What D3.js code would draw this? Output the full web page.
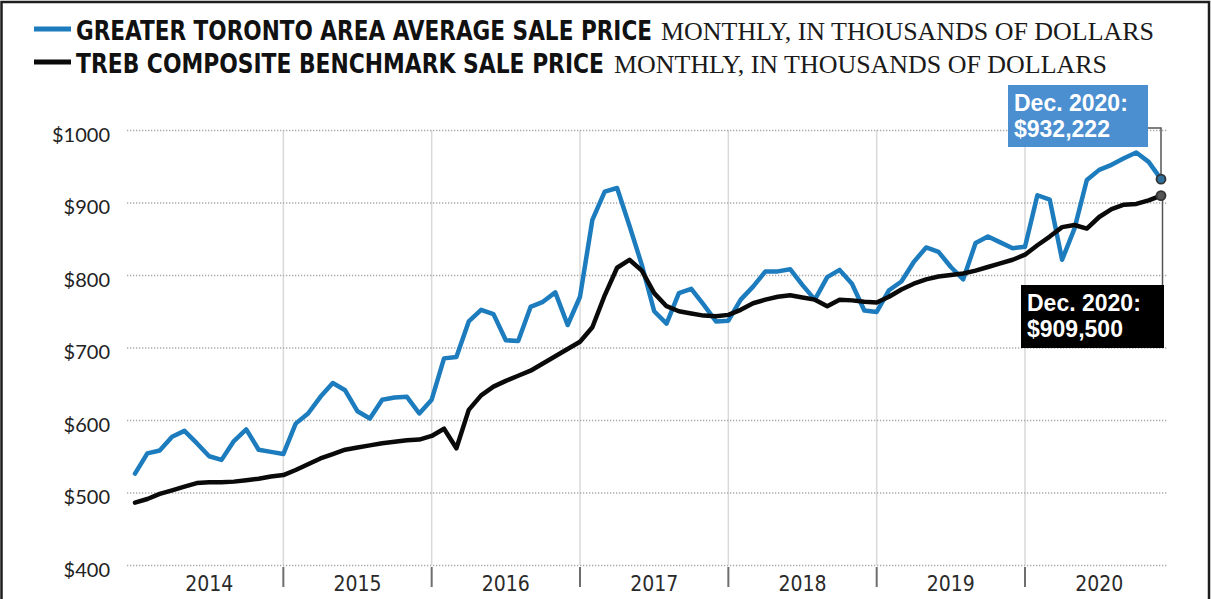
<!DOCTYPE html>
<html>
<head>
<meta charset="utf-8">
<script src="https://cdn.jsdelivr.net/npm/d3@7"></script>
<style>
  html, body { margin: 0; padding: 0; background: #fff; }
  svg { display: block; }
</style>
</head>
<body>
<svg id="chart" width="1211" height="599"></svg>
<script>
// Years shown along the bottom axis; one value per month, Jan 2014 – Dec 2020
const years = ["2014", "2015", "2016", "2017", "2018", "2019", "2020"];
const yTicks = [400, 500, 600, 700, 800, 900, 1000];

// GTA average sale price, monthly, thousands of dollars
const gtaAverage = [
  526, 554, 558, 577, 585, 568, 550, 545, 571, 587, 559, 556,
  553, 595, 609, 632, 651, 641, 612, 602, 628, 631, 632, 609,
  628, 685, 687, 736, 752, 746, 710, 709, 756, 763, 776, 731,
  770, 876, 915, 920, 868, 814, 750, 733, 775, 781, 759, 736,
  737, 766, 784, 805, 805, 808, 786, 766, 797, 807, 788, 751,
  749, 779, 791, 818, 838, 832, 811, 794, 844, 853, 845, 837,
  839, 910, 904, 821, 864, 931, 945, 952, 961, 969, 956, 932.222
];

// TREB composite benchmark sale price, monthly, thousands of dollars
const trebBenchmark = [
  486, 491, 498, 503, 508, 513, 514, 514, 515, 517, 519, 522,
  524, 531, 539, 547, 553, 559, 562, 565, 568, 570, 572, 573,
  578, 588, 561, 614, 634, 646, 654, 661, 668, 678, 688, 698,
  708, 728, 772, 810, 821, 806, 775, 757, 750, 747, 744, 743,
  745, 752, 761, 766, 770, 772, 769, 766, 757, 766, 765, 763,
  762, 770, 780, 788, 794, 798, 800, 802, 806, 811, 816, 821,
  828, 841, 853, 866, 869, 864, 880, 891, 897, 898, 903, 909.5
];

const seriesNames = ["GREATER TORONTO AREA AVERAGE SALE PRICE", "TREB COMPOSITE BENCHMARK SALE PRICE"];
const seriesNote = "MONTHLY, IN THOUSANDS OF DOLLARS";
const seriesColors = ["#1c7cbd", "#0a0a0a"];
const endLabels = [["Dec. 2020:", "$932,222"], ["Dec. 2020:", "$909,500"]];
const endBoxColors = ["#4b8fd1", "#000000"];

const svg = d3.select("#chart");
const W = 1211, H = 599;

const x = d3.scaleLinear().domain([0, gtaAverage.length - 1]).range([135, 1161]);
const y = d3.scaleLinear().domain([400, 1000]).range([565, 130]);
const gridLeft = 127, gridRight = 1167;

// Outer frame
svg.append("rect")
  .attr("x", 1.5).attr("y", 2).attr("width", W - 3.5).attr("height", H + 10)
  .attr("fill", "none").attr("stroke", "#1e1e1e").attr("stroke-width", 2.5);

// Vertical year separators
const yearStarts = d3.range(1, years.length).map(k => k * 12);
svg.append("g").selectAll("line").data(yearStarts).join("line")
  .attr("x1", d => x(d)).attr("x2", d => x(d))
  .attr("y1", y(1000)).attr("y2", y(400))
  .attr("stroke", "#d9d9d9").attr("stroke-width", 1.5);

// Horizontal dotted grid + dollar labels
const yAxis = d3.axisLeft(y)
  .tickValues(yTicks)
  .tickSize(-(gridRight - gridLeft))
  .tickPadding(17)
  .tickFormat(d => "$" + d);
const gy = svg.append("g")
  .attr("transform", `translate(${gridLeft},0)`)
  .call(yAxis);
gy.select(".domain").remove();
gy.selectAll(".tick line")
  .attr("stroke", "#a9a9a9").attr("stroke-width", 1.3)
  .attr("stroke-dasharray", "1.3,1.7");
gy.selectAll(".tick text")
  .attr("y", 5)
  .attr("fill", "#222")
  .style("font-family", "Lato, 'Open Sans', sans-serif")
  .style("font-size", "20px");

// Year tick marks below the plot
svg.append("g").selectAll("line").data(yearStarts).join("line")
  .attr("x1", d => x(d)).attr("x2", d => x(d))
  .attr("y1", 567).attr("y2", 587)
  .attr("stroke", "#6e6e6e").attr("stroke-width", 2);

// Year labels, centred in each year
svg.append("g").selectAll("text").data(years).join("text")
  .attr("x", (d, i) => x(i * 12 + 6))
  .attr("y", 591)
  .attr("text-anchor", "middle")
  .attr("fill", "#2a2a2a")
  .style("font-family", "'DejaVu Sans Condensed', 'DejaVu Sans', sans-serif")
  .style("font-stretch", "condensed")
  .style("font-size", "21px")
  .text(d => d);

// Price lines
const line = d3.line().x((d, i) => x(i)).y(d => y(d));
const series = [gtaAverage, trebBenchmark];
svg.append("g").selectAll("path").data(series).join("path")
  .attr("d", line)
  .attr("fill", "none")
  .attr("stroke", (d, i) => seriesColors[i])
  .attr("stroke-width", 4.5)
  .attr("stroke-linejoin", "round")
  .attr("stroke-linecap", "round");

// Legend
const legendRows = [40, 73];
const legend = svg.append("g");
legend.selectAll("line").data(seriesNames).join("line")
  .attr("x1", 34).attr("x2", 71)
  .attr("y1", (d, i) => legendRows[i] - 11).attr("y2", (d, i) => legendRows[i] - 11)
  .attr("stroke", (d, i) => seriesColors[i])
  .attr("stroke-width", 5);
const nameWidths = [576, 528];
legend.selectAll("text.name").data(seriesNames).join("text")
  .attr("class", "name")
  .attr("x", 76).attr("y", (d, i) => legendRows[i])
  .attr("textLength", (d, i) => nameWidths[i])
  .attr("lengthAdjust", "spacingAndGlyphs")
  .attr("fill", "#111")
  .style("font-family", "'DejaVu Sans Condensed', 'DejaVu Sans', sans-serif")
  .style("font-stretch", "condensed")
  .style("font-weight", "bold")
  .style("font-size", "26px")
  .text(d => d);
const noteStarts = [661, 614];
legend.selectAll("text.note").data(seriesNames).join("text")
  .attr("class", "note")
  .attr("x", (d, i) => noteStarts[i]).attr("y", (d, i) => legendRows[i])
  .attr("textLength", 493)
  .attr("lengthAdjust", "spacingAndGlyphs")
  .attr("fill", "#1a1a1a")
  .style("font-family", "'Liberation Serif', 'DejaVu Serif', serif")
  .style("font-size", "25px")
  .text(seriesNote);

// End-of-series markers, leader lines and value boxes
const lastIdx = gtaAverage.length - 1;
const ends = series.map(s => ({ px: x(lastIdx), py: y(s[lastIdx]) }));

const boxes = [
  { x: 1008, y: 85, w: 140, h: 62 },
  { x: 1021, y: 285, w: 143, h: 63 }
];

// leader for the average-price box: out of the box, across, then down to the point
svg.append("path")
  .attr("d", `M${boxes[0].x + boxes[0].w},128 H${ends[0].px} V${ends[0].py}`)
  .attr("fill", "none").attr("stroke", "#555").attr("stroke-width", 1.5);
// leader for the benchmark box: straight down from the point
svg.append("path")
  .attr("d", `M${ends[1].px + 1.5},${ends[1].py} V${boxes[1].y}`)
  .attr("fill", "none").attr("stroke", "#555").attr("stroke-width", 1.5);

svg.append("g").selectAll("circle").data(ends).join("circle")
  .attr("cx", d => d.px).attr("cy", d => d.py)
  .attr("r", 4.5)
  .attr("fill", (d, i) => i === 0 ? "#2f6f9c" : "#555")
  .attr("stroke", "#333").attr("stroke-width", 1.8);

const boxG = svg.append("g").selectAll("g").data(boxes).join("g");
boxG.append("rect")
  .attr("x", d => d.x).attr("y", d => d.y)
  .attr("width", d => d.w).attr("height", d => d.h)
  .attr("fill", (d, i) => endBoxColors[i]);
boxG.each(function(d, i) {
  d3.select(this).selectAll("text").data(endLabels[i]).join("text")
    .attr("x", d.x + 6)
    .attr("y", (t, j) => d.y + 26 + j * 26)
    .attr("fill", "#fff")
    .style("font-family", "'Liberation Sans', Arial, sans-serif")
    .style("font-weight", "bold")
    .style("font-size", "23px")
    .text(t => t);
});
</script>
</body>
</html>
